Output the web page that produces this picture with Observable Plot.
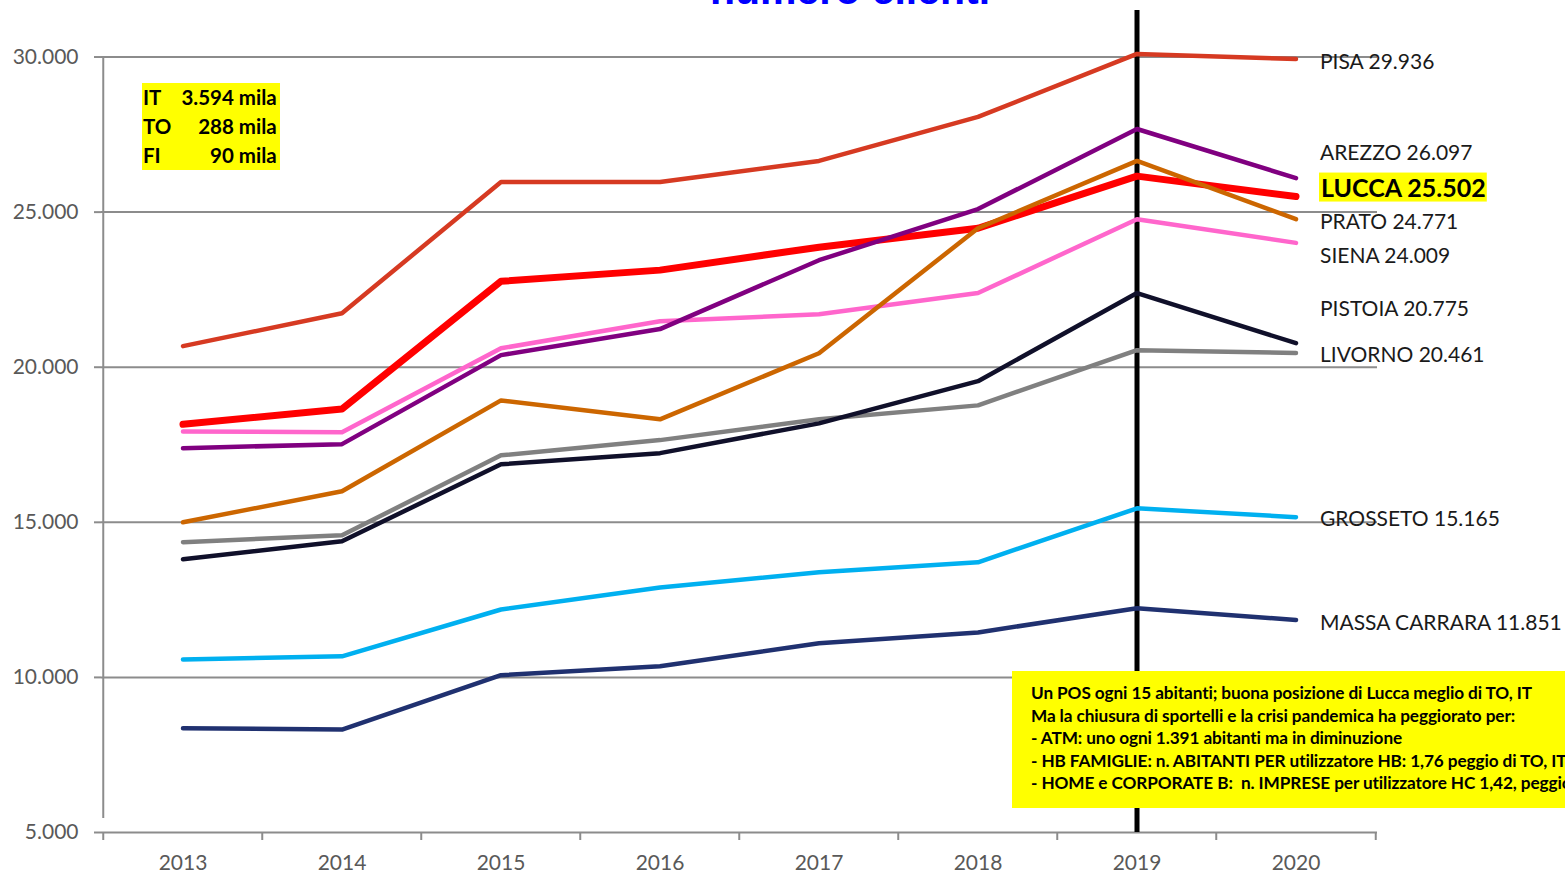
<!DOCTYPE html>
<html>
<head>
<meta charset="utf-8">
<script src="https://cdn.jsdelivr.net/npm/d3@7"></script>
<script src="https://cdn.jsdelivr.net/npm/@observablehq/plot@0.6"></script>
<style>
  html, body { margin: 0; padding: 0; background: #fff; }
  #wrap { position: relative; width: 1565px; height: 874px; overflow: hidden; font-family: Lato, "Open Sans", sans-serif; }
  #title { position: absolute; left: 0; width: 1700px; top: -30px; text-align: center; font: bold 41px "Liberation Sans", Arial, sans-serif; line-height: 1; color: #0000ff; }
  #boxTL { position: absolute; left: 142px; top: 83px; background: #ffff00; font: bold 20.5px Lato, sans-serif; color: #000; padding: 0 3px 0 1px; }
  #boxTL table { border-collapse: collapse; }
  #boxTL td { padding: 0; line-height: 29px; }
  #boxTL td.v { text-align: right; padding-left: 10px; }
  #boxBR { position: absolute; left: 1012px; top: 671px; width: 600px; height: 137px; background: #ffff00; font: bold 17.2px Lato, sans-serif; letter-spacing: -0.1px; color: #000; box-sizing: border-box; padding: 11px 0 0 19px; white-space: pre; }
  #boxBR div { line-height: 22.5px; }
</style>
</head>
<body>
<div id="wrap">
  <div id="chart"></div>
  <div id="title">numero clienti</div>
  <div id="boxTL"></div>
  <div id="boxBR"></div>
</div>
<script>
const years = ["2013","2014","2015","2016","2017","2018","2019","2020"];
const cities = ["LUCCA","PISA","SIENA","AREZZO","PRATO","LIVORNO","PISTOIA","GROSSETO","MASSA CARRARA"];
const lucca    = [18160, 18650, 22770, 23130, 23870, 24480, 26160, 25502];
const pisa     = [20680, 21740, 25970, 25970, 26650, 28070, 30100, 29936];
const siena    = [17930, 17900, 20610, 21480, 21710, 22390, 24770, 24009];
const arezzo   = [17390, 17520, 20390, 21230, 23450, 25100, 27680, 26097];
const prato    = [15000, 16000, 18930, 18320, 20450, 24480, 26650, 24771];
const livorno  = [14360, 14580, 17160, 17650, 18320, 18770, 20550, 20461];
const pistoia  = [13810, 14390, 16870, 17230, 18190, 19550, 22390, 20775];
const grosseto = [10580, 10680, 12190, 12900, 13390, 13710, 15450, 15165];
const massa    = [8360, 8320, 10070, 10360, 11100, 11450, 12230, 11851];
const yTicks = [5000, 10000, 15000, 20000, 25000, 30000];
const infoTL = [["IT", "3.594 mila"], ["TO", "288 mila"], ["FI", "90 mila"]];
const infoBR = [
  "Un POS ogni 15 abitanti; buona posizione di Lucca meglio di TO, IT",
  "Ma la chiusura di sportelli e la crisi pandemica ha peggiorato per:",
  "- ATM: uno ogni 1.391 abitanti ma in diminuzione",
  "- HB FAMIGLIE: n. ABITANTI PER utilizzatore HB: 1,76 peggio di TO, IT",
  "- HOME e CORPORATE B:  n. IMPRESE per utilizzatore HC 1,42, peggio di TO, IT"
];

const seriesValues = [lucca, pisa, siena, arezzo, prato, livorno, pistoia, grosseto, massa];
const colors = {"LUCCA":"#ff0000","PISA":"#d63a22","SIENA":"#ff66cc","AREZZO":"#800080","PRATO":"#cc6600","LIVORNO":"#808080","PISTOIA":"#10102a","GROSSETO":"#00b0f0","MASSA CARRARA":"#203170"};
const labelDy = {"LUCCA":-8,"PISA":3,"SIENA":13,"AREZZO":-25,"PRATO":3,"LIVORNO":2,"PISTOIA":-34,"GROSSETO":2,"MASSA CARRARA":3};

const fmt = d => d3.format(",")(d).replace(/,/g, ".");
const rows = [];
cities.forEach((c, i) => years.forEach((y, j) => rows.push({city: c, year: y, value: seriesValues[i][j]})));
const last = cities.map((c, i) => ({city: c, year: "2020", value: seriesValues[i][7]}));

const grid = "#8c8c8c";
const marks = [
  Plot.ruleY(yTicks.slice(1), {stroke: grid, strokeWidth: 2}),
  Plot.axisY({ticks: yTicks, tickFormat: fmt, tickSize: 7, tickPadding: 16, fontSize: 21, fill: "#595959", stroke: grid, strokeWidth: 2, label: null}),
  Plot.axisX({tickSize: 0, tickPadding: 23, fontSize: 21, fill: "#595959", label: null}),
  Plot.ruleY([5000], {stroke: grid, strokeWidth: 2}),
  Plot.ruleX(years, {x: d => d, dx: -79.75, y1: 5000, y2: 5000, stroke: grid, strokeWidth: 2, insetBottom: -8}),
  Plot.ruleX(["2020"], {x: d => d, dx: 79.75, y1: 5000, y2: 5000, stroke: grid, strokeWidth: 2, insetBottom: -8}),
  Plot.ruleX(["2013"], {x: d => d, dx: -79.75, y1: 5000, y2: 30000, stroke: grid, strokeWidth: 2, insetTop: -14}),
  Plot.ruleX(["2019"], {x: d => d, stroke: "#000", strokeWidth: 5})
];
cities.forEach(c => {
  marks.push(Plot.line(rows.filter(r => r.city === c), {x: "year", y: "value", stroke: colors[c], strokeWidth: c === "LUCCA" ? 7 : 4.5, strokeLinecap: "round", strokeLinejoin: "round"}));
});
cities.filter(c => c !== "LUCCA").forEach(c => {
  const d = last.filter(r => r.city === c);
  marks.push(Plot.text(d, {x: "year", y: "value", text: r => `${r.city} ${fmt(r.value)}`, dx: 24, dy: labelDy[c], textAnchor: "start", fontSize: 21, fill: "#1a1a1a", fontFamily: "Lato, sans-serif"}));
});
const lu = last.filter(r => r.city === "LUCCA");
marks.push(Plot.text(lu, {x: "year", y: "value", text: r => `${r.city} ${fmt(r.value)}`, dx: 25, dy: labelDy["LUCCA"], textAnchor: "start", fontSize: 25, fontWeight: "bold", fill: "#000", fontFamily: "Lato, sans-serif"}));

const chart = Plot.plot({
  width: 1565,
  height: 874,
  marginTop: 10,
  marginBottom: 42,
  marginLeft: 101,
  marginRight: 188,
  x: {type: "band", domain: years, padding: 0, align: 0.5},
  y: {domain: [5000, 31500]},
  style: {fontFamily: "Lato, sans-serif", background: "transparent", overflow: "visible"},
  marks
});
document.getElementById("chart").appendChild(chart);

// yellow highlight behind LUCCA label
d3.select(chart).selectAll("text").filter(function() { return this.textContent.startsWith("LUCCA"); }).each(function() {
  const bb = this.getBBox();
  d3.select(this.parentNode).insert("rect", () => this)
    .attr("transform", this.getAttribute("transform"))
    .attr("x", bb.x - 2).attr("y", bb.y + 1).attr("width", bb.width + 3).attr("height", bb.height - 1)
    .attr("fill", "#ffff00");
});

const tl = d3.select("#boxTL").append("table");
tl.selectAll("tr").data(infoTL).join("tr").selectAll("td").data(d => d).join("td")
  .attr("class", (d, i) => i ? "v" : "k").text(d => d);
d3.select("#boxBR").selectAll("div").data(infoBR).join("div").text(d => d);
</script>
</body>
</html>
